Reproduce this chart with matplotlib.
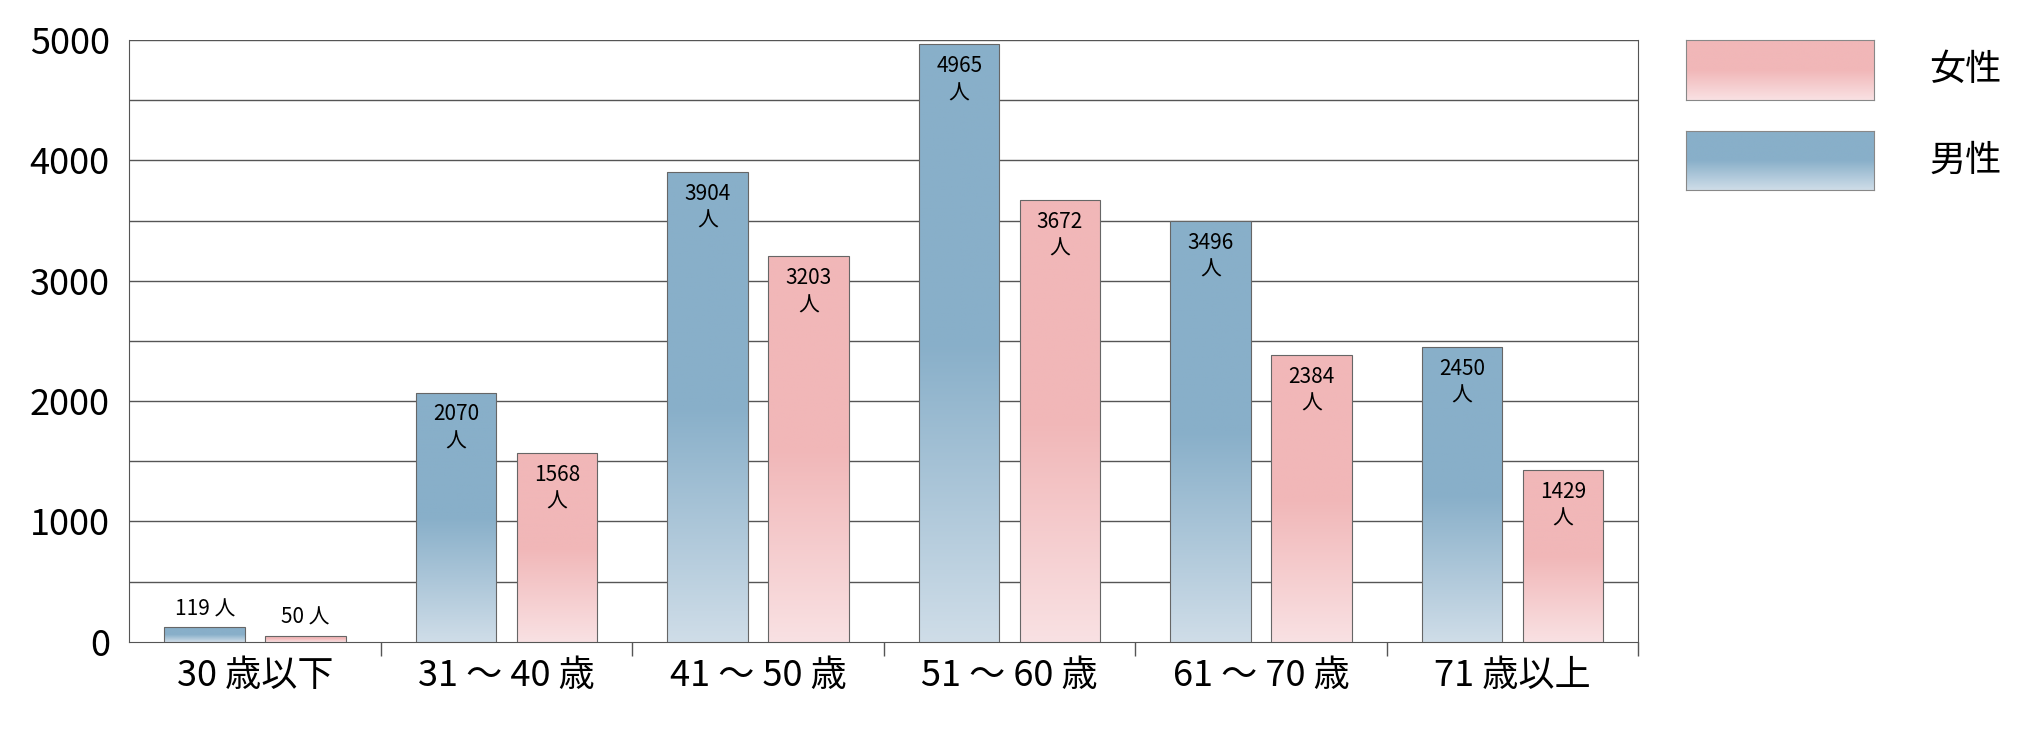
import matplotlib
matplotlib.use("Agg")
import matplotlib.pyplot as plt
import numpy as np
from matplotlib.colors import to_rgb
from matplotlib.patches import Rectangle

plt.rcParams['font.family'] = ['Noto Sans CJK JP', 'DejaVu Sans']

categories = ["30 歳以下", "31 ～ 40 歳", "41 ～ 50 歳", "51 ～ 60 歳", "61 ～ 70 歳", "71 歳以上"]
male = [119, 2070, 3904, 4965, 3496, 2450]
female = [50, 1568, 3203, 3672, 2384, 1429]

fig = plt.figure(figsize=(20.2, 7.3), dpi=100)
ax = fig.add_axes([0.064, 0.121, 0.747, 0.824])
ax.set_xlim(-0.5, 5.5)
ax.set_ylim(0, 5000)

def grad(c_top, c_bot, n=256):
    a = np.array(to_rgb(c_top)); b = np.array(to_rgb(c_bot))
    f = np.linspace(0, 1, n)  # 0 bottom ->1 top
    t = np.clip(f / 0.5, 0, 1)[:, None]
    return (b + (a - b) * t)[:, None, :]

blue_img = grad("#88afc9", "#cfdde8")
pink_img = grad("#f1b7b8", "#f9e1e3")

w = 0.32
for i in range(len(categories)):
    for val, off, img in [(male[i], -0.2, blue_img), (female[i], 0.2, pink_img)]:
        x0 = i + off - w / 2
        im = ax.imshow(img, extent=[x0, x0 + w, 0, val], origin='lower', aspect='auto', zorder=3)
        r = Rectangle((x0, 0), w, val, fill=False, edgecolor='#666666', lw=0.8, zorder=4)
        ax.add_patch(r)
        im.set_clip_path(Rectangle((x0, 0), w, val, transform=ax.transData))
        if val < 500:
            ax.text(i + off, val + 60, f"{val} 人", ha='center', va='bottom', fontsize=15, zorder=5)
        else:
            ax.text(i + off, val - 90, f"{val}\n人", ha='center', va='top', fontsize=15, linespacing=1.3, zorder=5)

ax.set_xlim(-0.5, 5.5)
ax.set_ylim(0, 5000)
ax.set_yticks(range(0, 5001, 500), minor=False)
ax.set_yticks(range(0, 5001, 1000))
for y in range(500, 5001, 500):
    ax.axhline(y, color='#555555', lw=1, zorder=1)
ax.tick_params(axis='y', length=0, labelsize=26, pad=14)
ax.set_xticks(range(len(categories)))
ax.set_xticklabels(categories, fontsize=26)
ax.tick_params(axis='x', length=0, pad=12)
ax.set_xticks(np.arange(0.5, 5.6, 1), minor=True)
ax.tick_params(axis='x', which='minor', length=10, color='#555555', width=1)
for s in ['top', 'right']:
    ax.spines[s].set_visible(False)
ax.spines['left'].set_color('#555555')
ax.spines['bottom'].set_color('#555555')
ax.spines['right'].set_visible(True)
ax.spines['right'].set_color('#555555')
ax.set_axisbelow(True)

# legend
for j, (lab, img) in enumerate([("女性", pink_img), ("男性", blue_img)]):
    top = 1 - 31 / 564 - j * 70 / 564
    h = 46 / 564
    lax = fig.add_axes([1302 / 1560, top - h, 145 / 1560, h])
    lax.imshow(img, origin='lower', aspect='auto', extent=[0, 1, 0, 1])
    lax.set_xticks([]); lax.set_yticks([])
    for s in lax.spines.values():
        s.set_color('#888888'); s.set_linewidth(0.8)
    fig.text(1490 / 1560, top - h / 2, lab, fontsize=26, va='center', ha='left')

fig.savefig("out.png", dpi=100)
